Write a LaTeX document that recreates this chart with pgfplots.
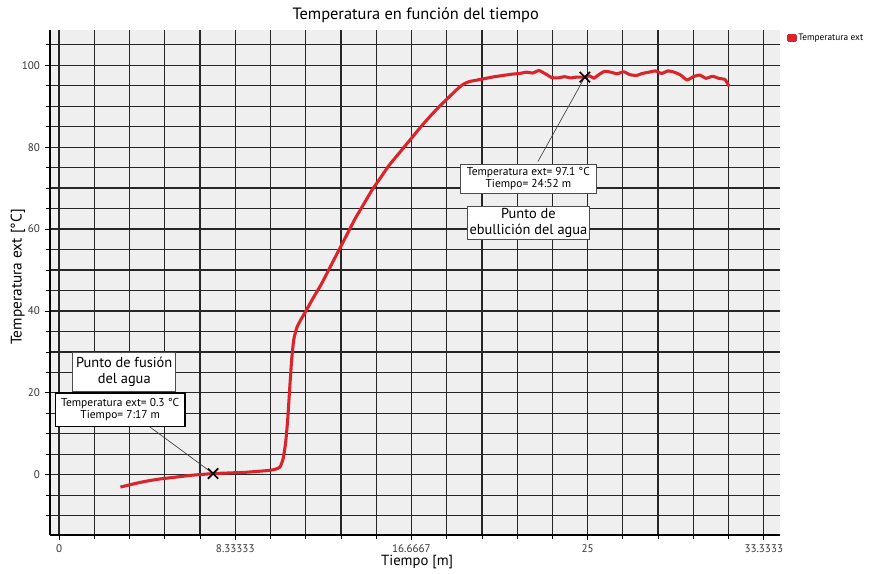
\documentclass[border=0pt]{standalone}
\usepackage{pgfplots}
\pgfplotsset{compat=1.18}
\usepackage{fontspec}
\setmainfont{PT Sans}
\definecolor{curve}{HTML}{D8242A}
\definecolor{bg}{HTML}{EFEFEF}
\begin{document}
\begin{tikzpicture}
\begin{axis}[
  scale only axis, width=547.5pt, height=378.75pt,
  xmin=-0.43, xmax=34.1, ymin=-14.7, ymax=108.6,
  clip=false,
  axis x line*=bottom, axis y line*=left,
  axis line style={black, line width=0.9pt, -},
  axis background/.style={fill=bg},
  xtick={0,8.33333,16.6667,25,33.3333},
  xticklabels={0,8.33333,16.6667,25,33.3333},
  minor xtick={0,1.66667,3.33333,5,6.66667,8.33333,10,11.6667,13.3333,15,16.6667,18.3333,20,21.6667,23.3333,25,26.6667,28.3333,30,31.6667,33.3333},
  ytick={0,20,40,60,80,100},
  minor ytick={-10,-5,0,5,10,15,20,25,30,35,40,45,50,55,60,65,70,75,80,85,90,95,100,105},
  grid=both,
  major grid style={black!85, line width=0.9pt},
  minor grid style={black!85, line width=0.9pt},
  tick align=outside,
  major tick length=4pt, minor tick length=3pt,
  tick style={black, line width=0.6pt},
  /pgf/number format/assume math mode=true,
  tick label style={font=\fontsize{8.3}{10}\selectfont, text=black!80},
  xlabel={Tiempo [m]}, ylabel={Temperatura ext [°C]},
  xlabel style={at={(rel axis cs:0.503,-0.0535)}, anchor=center, font=\fontsize{11}{13}\selectfont},
  ylabel style={at={(rel axis cs:-0.0438,0.511)}, anchor=center, font=\fontsize{11.5}{13}\selectfont},
  legend style={at={(rel axis cs:1.009,0.995)}, anchor=north west, draw=none, fill=none,
    font=\fontsize{7}{8.5}\selectfont, inner sep=0pt, nodes={inner sep=0.8pt}},
  legend cell align=left,
]
\addplot[curve, line width=2.3pt, line join=round, smooth, tension=0.3,
  legend image code/.code={\fill[curve] (0pt,-1.8pt) rectangle (5.5pt,1.8pt);}]
coordinates {
(2.9,-3.0) (3.3,-2.5) (3.8,-1.9) (4.3,-1.4) (4.8,-1.0) (5.3,-0.7) (5.8,-0.4)
(6.3,-0.1) (6.8,0.1) (7.28,0.3) (7.8,0.4) (8.3,0.5) (8.8,0.6) (9.3,0.8)
(9.8,1.0) (10.2,1.3) (10.45,1.9) (10.6,4) (10.72,8) (10.82,14) (10.92,22)
(11.0,28) (11.1,33) (11.25,36) (11.45,38) (11.7,40.2) (12.0,43) (12.4,46.5)
(12.8,50.5) (13.2,54.5) (13.6,58.5) (14.0,62.5) (14.4,66) (14.8,69.5)
(15.2,72.5) (15.6,75.5) (16.0,78) (16.4,80.5) (16.8,83) (17.2,85.5)
(17.6,87.8) (18.0,90) (18.4,92) (18.8,94) (19.1,95.3) (19.4,96) (19.8,96.4)
(20.2,96.8) (20.6,97.2) (21.0,97.5) (21.4,97.8) (21.8,98.0) (22.1,98.3)
(22.4,98.1) (22.7,98.7) (23.0,97.9) (23.3,97.0) (23.6,96.9) (23.9,97.2)
(24.2,96.9) (24.5,97.1) (24.87,97.1) (25.1,97.4) (25.3,96.8) (25.5,97.6)
(25.8,98.5) (26.1,98.3) (26.4,97.9) (26.7,98.4) (27.0,97.7) (27.3,97.5)
(27.6,98.0) (27.9,98.3) (28.2,98.6) (28.5,98.0) (28.8,98.6) (29.1,98.3)
(29.4,97.6) (29.7,96.4) (30.0,97.2) (30.3,97.6) (30.6,96.8) (30.9,97.3)
(31.2,96.8) (31.5,96.5) (31.7,94.8)
};
\addlegendentry{Temperatura ext}
\addplot[only marks, mark=x, mark size=5.5pt, black, line width=1.2pt, forget plot]
coordinates {(7.283,0.3) (24.867,97.1)};
% leader lines
\draw[black!75, line width=0.5pt] (axis cs:4.08,12.5) -- (axis cs:7.283,0.3);
\draw[black!75, line width=0.5pt] (axis cs:22.65,76.5) -- (axis cs:24.867,97.1);
% annotation boxes
\node[draw=black!70, fill=white, line width=0.6pt, align=center, inner sep=2pt,
  minimum width=77pt, minimum height=29pt, font=\fontsize{10.8}{12}\selectfont]
  at (axis cs:3.08,25.2) {Punto de fusión\\del agua};
\node[draw=black, fill=white, line width=1pt, align=center, inner sep=2pt,
  minimum width=97pt, minimum height=25pt, font=\fontsize{8.6}{9.5}\selectfont]
  at (axis cs:2.89,15.9) {Temperatura ext= 0.3 °C\\Tiempo= 7:17 m};
\node[draw=black!70, fill=white, line width=0.6pt, align=center, inner sep=1.5pt,
  minimum width=102pt, minimum height=22pt, font=\fontsize{8.6}{9.5}\selectfont]
  at (axis cs:22.2,72.3) {Temperatura ext= 97.1 °C\\Tiempo= 24:52 m};
\node[draw=black!70, fill=white, line width=0.6pt, align=center, inner sep=1.5pt,
  minimum width=90pt, minimum height=25pt, font=\fontsize{10.8}{12}\selectfont]
  at (axis cs:22.2,61.5) {Punto de\\ebullición del agua};
% title
\node[font=\fontsize{12.3}{14}\selectfont, anchor=center]
  at (rel axis cs:0.501,1.0297) {Temperatura en función del tiempo};
% page frame
\path (rel axis cs:-0.0685,-0.0673) rectangle (rel axis cs:1.1233,1.0594);
\end{axis}
\end{tikzpicture}
\end{document}
